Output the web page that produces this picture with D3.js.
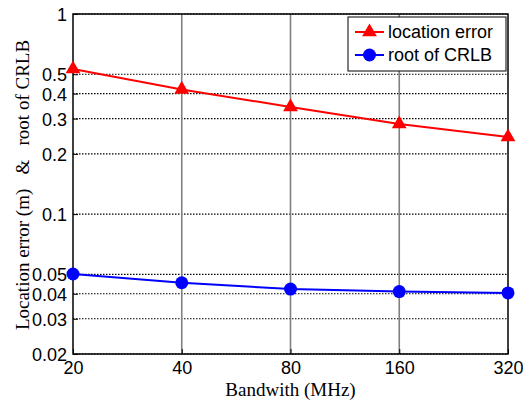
<!DOCTYPE html>
<html>
<head>
<meta charset="utf-8">
<script src="https://cdn.jsdelivr.net/npm/d3@7"></script>
<style>
body { margin: 0; background: #fff; }
.tick text { font-family: "Liberation Sans", Arial, sans-serif; font-size: 18px; fill: #000; }
</style>
</head>
<body>
<div id="chart"></div>
<script>
var bandwidths = [20, 40, 80, 160, 320];
var locationError = [0.531, 0.42, 0.343, 0.282, 0.243];
var rootCRLB = [0.0502, 0.0454, 0.0422, 0.041, 0.0404];
var yTicks = [0.02, 0.03, 0.04, 0.05, 0.1, 0.2, 0.3, 0.4, 0.5, 1];

var svgWidth = 523;
var svgHeight = 403;
var margin = { top: 14, right: 15, bottom: 49, left: 73 };
var width = svgWidth - margin.left - margin.right;
var height = svgHeight - margin.top - margin.bottom;

var svg = d3.select("#chart").append("svg")
    .attr("width", svgWidth)
    .attr("height", svgHeight);

var g = svg.append("g")
    .attr("transform", `translate(${margin.left},${margin.top})`);

var x = d3.scaleLog().base(2).domain([20, 320]).range([0, width]);
var y = d3.scaleLog().domain([0.02, 1]).range([height, 0]);

// horizontal dotted grid
g.selectAll(".hgrid")
    .data(yTicks)
    .enter().append("line")
    .attr("x1", 0).attr("x2", width)
    .attr("y1", d => y(d)).attr("y2", d => y(d))
    .attr("stroke", "#000")
    .attr("stroke-width", 1.2)
    .attr("stroke-dasharray", "1.5,1.5");

// vertical solid grid
g.selectAll(".vgrid")
    .data(bandwidths.slice(1, -1))
    .enter().append("line")
    .attr("x1", d => x(d)).attr("x2", d => x(d))
    .attr("y1", 0).attr("y2", height)
    .attr("stroke", "#808080")
    .attr("stroke-width", 1.6);

// axes
var xAxis = d3.axisBottom(x).tickValues(bandwidths).tickFormat(d3.format("d"))
    .tickSizeInner(-5).tickSizeOuter(0).tickPadding(7);
var yAxis = d3.axisLeft(y).tickValues(yTicks).tickFormat(d => String(d))
    .tickSizeInner(-5).tickSizeOuter(0).tickPadding(6);

var gx = g.append("g").attr("transform", `translate(0,${height})`).call(xAxis);
var gy = g.append("g").call(yAxis);
gx.select(".domain").remove();
gy.select(".domain").remove();
gx.selectAll(".tick line").attr("stroke", "#000");
gy.selectAll(".tick line").attr("stroke", "#000");
gy.selectAll(".tick text").attr("dy", "0.36em");

// frame
g.append("rect")
    .attr("width", width).attr("height", height)
    .attr("fill", "none")
    .attr("stroke", "#000")
    .attr("stroke-width", 1.5);

// series
var line = d3.line().x((d, i) => x(bandwidths[i])).y(d => y(d));

g.append("path").datum(locationError)
    .attr("d", line).attr("fill", "none")
    .attr("stroke", "#ff0000").attr("stroke-width", 2);

g.append("path").datum(rootCRLB)
    .attr("d", line).attr("fill", "none")
    .attr("stroke", "#0000ff").attr("stroke-width", 2);

var tri = d3.symbol().type(d3.symbolTriangle).size(95);

g.selectAll(".tri")
    .data(locationError)
    .enter().append("path")
    .attr("d", tri)
    .attr("transform", (d, i) => `translate(${x(bandwidths[i])},${y(d)})`)
    .attr("fill", "#ff0000");

g.selectAll(".dot")
    .data(rootCRLB)
    .enter().append("circle")
    .attr("cx", (d, i) => x(bandwidths[i]))
    .attr("cy", d => y(d))
    .attr("r", 6.5)
    .attr("fill", "#0000ff");

// legend
var legend = svg.append("g").attr("transform", "translate(348,17)");
legend.append("rect")
    .attr("width", 158).attr("height", 54)
    .attr("fill", "#fff").attr("stroke", "#000").attr("stroke-width", 1);

var legendItems = [
    { name: "location error", color: "#ff0000", shape: "tri" },
    { name: "root of CRLB", color: "#0000ff", shape: "dot" }
];
legendItems.forEach(function(item, i) {
    var ly = 15 + i * 23;
    legend.append("line")
        .attr("x1", 7).attr("x2", 36)
        .attr("y1", ly).attr("y2", ly)
        .attr("stroke", item.color).attr("stroke-width", 2);
    if (item.shape === "tri") {
        legend.append("path").attr("d", tri)
            .attr("transform", `translate(21.5,${ly})`)
            .attr("fill", item.color);
    } else {
        legend.append("circle").attr("cx", 21.5).attr("cy", ly)
            .attr("r", 6.5).attr("fill", item.color);
    }
    legend.append("text")
        .attr("x", 40).attr("y", ly)
        .attr("dy", "0.36em")
        .style("font-family", "'Liberation Sans', Arial, sans-serif")
        .style("font-size", "18px")
        .text(item.name);
});

// axis labels
svg.append("text")
    .attr("x", margin.left + width / 2)
    .attr("y", 396)
    .attr("text-anchor", "middle")
    .style("font-family", "'Liberation Serif', 'Times New Roman', serif")
    .style("font-size", "19px")
    .text("Bandwith (MHz)");

svg.append("text")
    .attr("transform", "translate(29,185) rotate(-90)")
    .attr("text-anchor", "middle")
    .style("font-family", "'Liberation Serif', 'Times New Roman', serif")
    .style("font-size", "19px")
    .style("white-space", "pre")
    .attr("xml:space", "preserve")
    .text("Location error (m)   &   root of CRLB");
</script>
</body>
</html>
